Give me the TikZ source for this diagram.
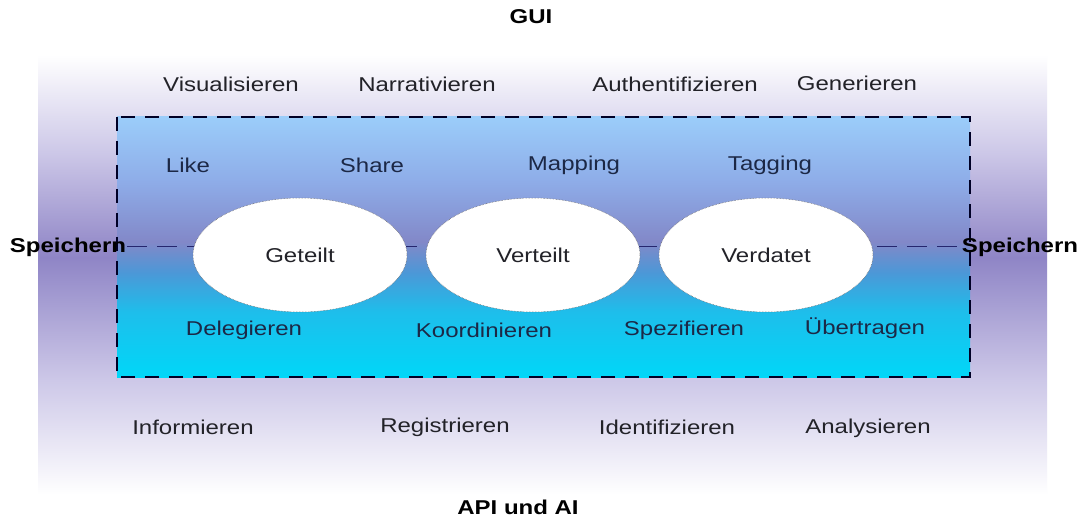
\documentclass[tikz,border=0pt]{standalone}
\usepackage{fontspec}
\setmainfont{Liberation Sans}[FakeStretch=1.2]
\usetikzlibrary{shapes.geometric}
\definecolor{outermid}{RGB}{143,133,198}
\definecolor{outerlo}{RGB}{205,200,232}
\definecolor{inA}{RGB}{0,215,248}
\definecolor{inB}{RGB}{30,190,235}
\definecolor{inC}{RGB}{75,152,215}
\definecolor{inD}{RGB}{130,136,200}
\definecolor{inE}{RGB}{142,172,232}
\definecolor{inF}{RGB}{155,205,250}
\definecolor{txtdark}{RGB}{34,34,40}
\definecolor{txtnavy}{RGB}{28,40,70}
\pgfdeclareverticalshading{outershade}{100bp}{color(0bp)=(white); color(25bp)=(white); color(38bp)=(outerlo); color(52bp)=(outermid); color(64bp)=(outerlo); color(75bp)=(white); color(100bp)=(white)}
\pgfdeclareverticalshading{innershade}{100bp}{color(0bp)=(inA); color(25bp)=(inA); color(37.5bp)=(inB); color(45bp)=(inC); color(51bp)=(inD); color(62.5bp)=(inE); color(75bp)=(inF); color(100bp)=(inF)}
\tikzset{
  outerlbl/.style={font=\fontsize{20}{23}\selectfont, text=txtdark},
  innerlbl/.style={font=\fontsize{20}{23}\selectfont, text=txtnavy},
  boldlbl/.style={font=\fontsize{20}{23}\selectfont\bfseries, text=black},
  bubble/.style={ellipse, fill=white, draw=gray!70!black, densely dotted, line width=0.5pt, minimum width=214pt, minimum height=114pt, inner sep=0pt, font=\fontsize{20}{23}\selectfont, text=txtdark},
  frame/.style={draw=black!85!blue, line width=1.3pt, dash pattern=on 14pt off 10pt},
  midline/.style={draw=black!60!blue!70!gray, line width=1pt, dash pattern=on 20pt off 10pt}
}
\begin{document}
\begin{tikzpicture}[x=1pt,y=-1pt]
\useasboundingbox (0,0) rectangle (1078,518);
\fill[white] (0,0) rectangle (1078,518);
\shade[shading=outershade] (38,55) rectangle (1047,495);
\shade[shading=innershade] (117,117) rectangle (970,377);
\draw[frame] (117,117) rectangle (970,377);
\coordinate (lineL) at (127,247);
\coordinate (lineR) at (963,247);
\draw[midline] (lineL) -- (lineR);
\node[bubble] (geteilt) at (300,255) {Geteilt};
\node[bubble] (verteilt) at (533,255) {Verteilt};
\node[bubble] (verdatet) at (766,255) {Verdatet};
\node[boldlbl] (gui) at (531,17) {GUI};
\node[boldlbl] (api) at (518,507) {API und AI};
\node[boldlbl] (speiL) at (68,247) {Speichern};
\node[boldlbl] (speiR) at (1020,247) {Speichern};
\node[outerlbl] (visu) at (231,84) {Visualisieren};
\node[outerlbl] (narr) at (427,84) {Narrativieren};
\node[outerlbl] (auth) at (675,84) {Authentifizieren};
\node[outerlbl] (gene) at (857,83) {Generieren};
\node[innerlbl] (like) at (188,165) {Like};
\node[innerlbl] (share) at (372,165) {Share};
\node[innerlbl] (mapp) at (574,165) {Mapping};
\node[innerlbl] (tagg) at (770,165) {Tagging};
\node[innerlbl] (dele) at (244,330) {Delegieren};
\node[innerlbl] (koor) at (484,330) {Koordinieren};
\node[innerlbl] (spez) at (684,330) {Spezifieren};
\node[innerlbl] (uebe) at (865,328) {Übertragen};
\node[outerlbl] (info) at (193,427) {Informieren};
\node[outerlbl] (regi) at (445,427) {Registrieren};
\node[outerlbl] (iden) at (667,427) {Identifizieren};
\node[outerlbl] (anal) at (868,428) {Analysieren};
\end{tikzpicture}
\end{document}
